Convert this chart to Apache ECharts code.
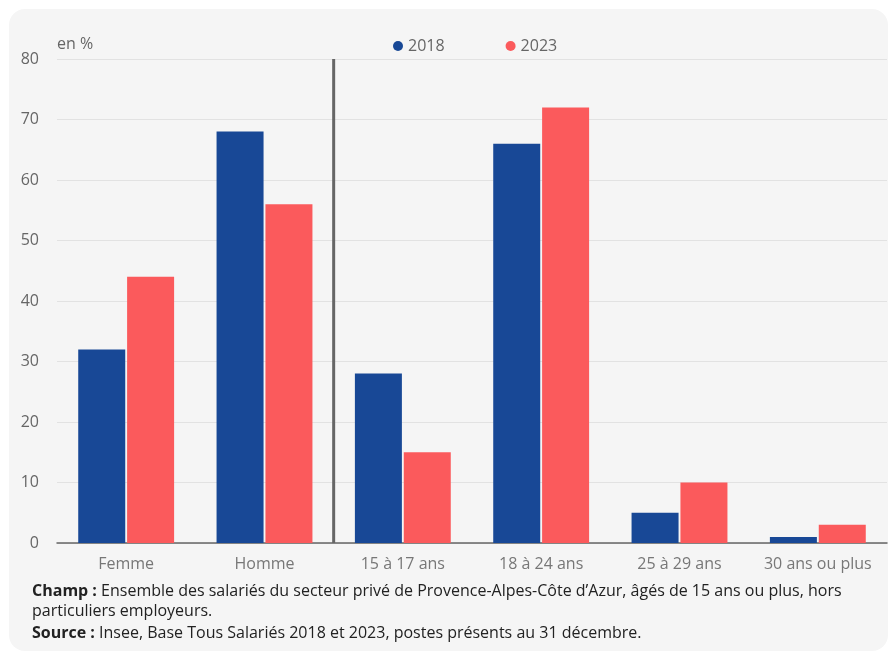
<!DOCTYPE html>
<html>
<head>
<meta charset="utf-8">
<script src="https://cdn.jsdelivr.net/npm/echarts@6/dist/echarts.min.js"></script>
<style>
  html, body { margin: 0; padding: 0; background: #ffffff; }
  #panel { position: absolute; left: 9px; top: 9px; width: 879px; height: 642px; background: #f5f5f5; border-radius: 16px; }
  #chart { position: absolute; left: 0; top: 0; width: 890px; height: 652px; }
</style>
</head>
<body>
<div id="panel"></div>
<div id="chart"></div>
<script>
// categories and values (en %)
const categories = ['Femme', 'Homme', '15 à 17 ans', '18 à 24 ans', '25 à 29 ans', '30 ans ou plus'];
const values2018 = [32, 68, 28, 66, 5, 1];
const values2023 = [44, 56, 15, 72, 10, 3];
const yTicks = [0, 10, 20, 30, 40, 50, 60, 70, 80];
// separator between the sex and age groups, after the 2nd category
const separatorAt = 2;

const font = '"Open Sans", "Noto Sans", sans-serif';

const option = {
    textStyle: { fontFamily: font },
    title: [
        {
            left: 27,
            top: 576,
            text: '{b|Champ :} Ensemble des salariés du secteur privé de Provence-Alpes-Côte d’Azur, âgés de 15 ans ou plus, hors\nparticuliers employeurs.',
            textStyle: {
                fontFamily: font, fontSize: 16, fontWeight: 'normal', color: '#222', lineHeight: 20,
                rich: { b: { fontFamily: font, fontSize: 16, fontWeight: 'bold', color: '#222', lineHeight: 20 } }
            }
        },
        {
            left: 27,
            top: 618,
            text: '{b|Source :} Insee, Base Tous Salariés 2018 et 2023, postes présents au 31 décembre.',
            textStyle: {
                fontFamily: font, fontSize: 16, fontWeight: 'normal', color: '#222', lineHeight: 20,
                rich: { b: { fontFamily: font, fontSize: 16, fontWeight: 'bold', color: '#222', lineHeight: 20 } }
            }
        }
    ],
    legend: {
        data: ['2018', '2023'],
        left: 388,
        top: 33,
        icon: 'circle',
        itemWidth: 10,
        itemHeight: 10,
        itemGap: 61,
        textStyle: { fontFamily: font, fontSize: 16, color: '#666' }
    },
    grid: {
        left: 57,
        right: 3,
        top: 59,
        bottom: 109,
        containLabel: false
    },
    xAxis: [
        {
            type: 'category',
            data: categories,
            axisLine: { lineStyle: { color: '#666', width: 1.5 } },
            axisTick: { show: false },
            axisLabel: { fontFamily: font, fontSize: 16, color: '#777', margin: 13, interval: 0 }
        },
        {
            type: 'value',
            min: 0,
            max: categories.length,
            show: false
        }
    ],
    yAxis: {
        type: 'value',
        min: yTicks[0],
        max: yTicks[yTicks.length - 1],
        interval: 10,
        name: 'en %',
        nameLocation: 'end',
        nameGap: 7,
        nameTextStyle: { fontFamily: font, fontSize: 16, color: '#666', align: 'left' },
        axisLine: { show: false },
        axisTick: { show: false },
        axisLabel: { fontFamily: font, fontSize: 16, color: '#666', margin: 18 },
        splitLine: { lineStyle: { color: '#e2e2e2', width: 1 } }
    },
    series: [
        {
            name: '2018',
            type: 'bar',
            data: values2018,
            barWidth: 47,
            barGap: '4%',
            itemStyle: { color: '#184896' }
        },
        {
            name: '2023',
            type: 'bar',
            data: values2023,
            barWidth: 47,
            barGap: '4%',
            itemStyle: { color: '#fb5a5c' }
        },
        {
            name: 'sep',
            type: 'line',
            xAxisIndex: 1,
            data: [[separatorAt, yTicks[0]], [separatorAt, yTicks[yTicks.length - 1]]],
            symbol: 'none',
            lineStyle: { color: '#666', width: 3 },
            silent: true,
            z: 5
        }
    ]
};

const chart = echarts.init(document.getElementById('chart'));
chart.setOption(option);
window.addEventListener('resize', function () {
    chart.resize();
});
</script>
</body>
</html>
